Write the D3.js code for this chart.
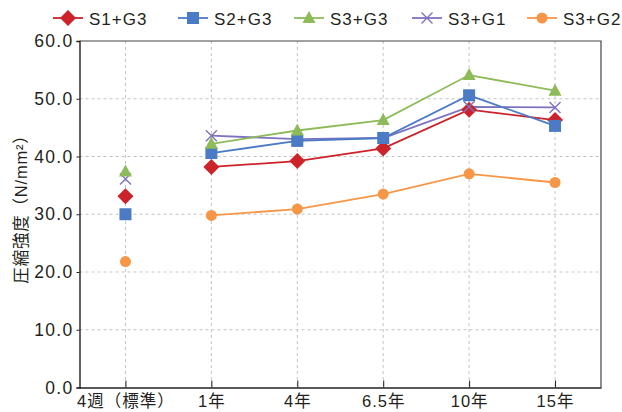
<!DOCTYPE html>
<html>
<head>
<meta charset="utf-8">
<script src="https://cdn.jsdelivr.net/npm/d3@7/dist/d3.min.js"></script>
<style>
  html, body { margin: 0; padding: 0; background: #fff; }
  svg { display: block; }
  text { fill: #231f20; }
</style>
</head>
<body>
<svg id="chart" width="622" height="412"></svg>
<script>
// Age categories along the x axis
const categories = ["4週（標準）", "1年", "4年", "6.5年", "10年", "15年"];

// Compressive strength (N/mm²) per mix, one value per age
const seriesNames = ["S1+G3", "S2+G3", "S3+G3", "S3+G1", "S3+G2"];
const s1g3 = [33.1, 38.2, 39.2, 41.4, 48.1, 46.3];
const s2g3 = [30.0, 40.6, 42.7, 43.2, 50.6, 45.3];
const s3g3 = [37.4, 42.2, 44.5, 46.3, 54.1, 51.4];
const s3g1 = [36.1, 43.6, 43.0, 43.2, 48.6, 48.5];
const s3g2 = [21.8, 29.8, 30.9, 33.5, 37.0, 35.5];

const yTicks = [0, 10, 20, 30, 40, 50, 60];

const seriesValues = [s1g3, s2g3, s3g3, s3g1, s3g2];
const colors = ["#cc2229", "#4a7bc4", "#8cbb58", "#7d72bf", "#f79646"];
const shapes = ["diamond", "square", "triangle", "cross", "circle"];

const svg = d3.select("#chart");
const plotLeft = 79.5, plotRight = 601, plotTop = 41, plotBottom = 387.5;

const x = d3.scalePoint().domain(categories).range([plotLeft, plotRight]).padding(0.535);
const y = d3.scaleLinear().domain([0, 60]).range([plotBottom, plotTop]);

const latin = "'Liberation Sans', Arial, Helvetica, sans-serif";
const cjk = "'Liberation Sans', 'Noto Sans CJK JP', sans-serif";

// Dashed grid
const grid = svg.append("g");
grid.selectAll("line.h").data(yTicks.filter(d => d > 0 && d < 60)).join("line")
  .attr("x1", plotLeft).attr("x2", plotRight)
  .attr("y1", d => y(d)).attr("y2", d => y(d))
  .attr("stroke", "#c4c4c4").attr("stroke-width", 1).attr("stroke-dasharray", "3,3");
grid.selectAll("line.v").data(categories).join("line")
  .attr("x1", d => x(d)).attr("x2", d => x(d))
  .attr("y1", plotTop).attr("y2", plotBottom)
  .attr("stroke", "#c4c4c4").attr("stroke-width", 1).attr("stroke-dasharray", "3,3");

// Plot frame (top and right)
svg.append("path")
  .attr("d", `M${plotLeft},${plotTop}H${plotRight}V${plotBottom}`)
  .attr("fill", "none").attr("stroke", "#444").attr("stroke-width", 1.2);

// Y axis
const yAxis = svg.append("g").attr("transform", `translate(${plotLeft},0)`)
  .call(d3.axisLeft(y).tickValues(yTicks).tickFormat(d3.format(".1f")).tickSize(3).tickPadding(3));
yAxis.select(".domain").attr("stroke", "#231f20").attr("stroke-width", 1.4);
yAxis.selectAll(".tick line").attr("stroke", "#231f20");
yAxis.selectAll("text")
  .attr("font-family", latin).attr("font-size", 17.5).attr("letter-spacing", "1.3px")
  .attr("fill", "#231f20");

// X axis with inward ticks
const xAxis = svg.append("g").attr("transform", `translate(0,${plotBottom})`)
  .call(d3.axisBottom(x).tickSizeInner(-7).tickSizeOuter(0).tickPadding(7));
xAxis.select(".domain").attr("stroke", "#231f20").attr("stroke-width", 1.4);
xAxis.selectAll(".tick line").attr("stroke", "#231f20");
xAxis.selectAll("text")
  .attr("font-family", cjk).attr("font-size", 16.5).attr("letter-spacing", "1px")
  .attr("fill", "#231f20").attr("dy", "0.74em");

// Y axis title
svg.append("text")
  .attr("transform", "translate(27,205) rotate(-90)")
  .attr("text-anchor", "middle")
  .attr("font-family", cjk).attr("font-size", 16.5).attr("letter-spacing", "0.8px")
  .text("圧縮強度（N/mm²）");

// Marker drawing
function drawMarker(g, shape, color) {
  if (shape === "diamond") {
    g.append("path").attr("d", "M0,-8L8,0L0,8L-8,0Z").attr("fill", color);
  } else if (shape === "square") {
    g.append("rect").attr("x", -6).attr("y", -6).attr("width", 12).attr("height", 12).attr("fill", color);
  } else if (shape === "triangle") {
    g.append("path").attr("d", "M0,-7L6.5,5L-6.5,5Z").attr("fill", color);
  } else if (shape === "cross") {
    g.append("path").attr("d", "M-5.5,-5.5L5.5,5.5M-5.5,5.5L5.5,-5.5")
      .attr("stroke", color).attr("stroke-width", 1.4).attr("fill", "none");
  } else {
    g.append("circle").attr("r", 5.5).attr("fill", color);
  }
}

// Lines connect the 1年..15年 ages; the standard 4週 value stands alone
const line = d3.line().x(d => x(d.cat)).y(d => y(d.v));
const drawOrder = [4, 0, 3, 1, 2];
drawOrder.forEach(i => {
  const pts = seriesValues[i].map((v, j) => ({ cat: categories[j], v }));
  svg.append("path")
    .datum(pts.slice(1))
    .attr("d", line)
    .attr("fill", "none").attr("stroke", colors[i]).attr("stroke-width", 1.8);
});
drawOrder.forEach(i => {
  const pts = seriesValues[i].map((v, j) => ({ cat: categories[j], v }));
  pts.forEach(p => {
    const g = svg.append("g").attr("transform", `translate(${x(p.cat)},${y(p.v)})`);
    drawMarker(g, shapes[i], colors[i]);
  });
});

// Legend
const legendX = [53, 178, 294, 412, 527];
seriesNames.forEach((name, i) => {
  const g = svg.append("g").attr("transform", `translate(${legendX[i]},18)`);
  g.append("line").attr("x1", 0).attr("x2", 30).attr("y1", 0).attr("y2", 0)
    .attr("stroke", colors[i]).attr("stroke-width", 1.8);
  const m = g.append("g").attr("transform", "translate(15,0)");
  drawMarker(m, shapes[i], colors[i]);
  g.append("text").attr("x", 36).attr("y", 6.5)
    .attr("font-family", latin).attr("font-size", 17).attr("letter-spacing", "1px")
    .text(name);
});
</script>
</body>
</html>
